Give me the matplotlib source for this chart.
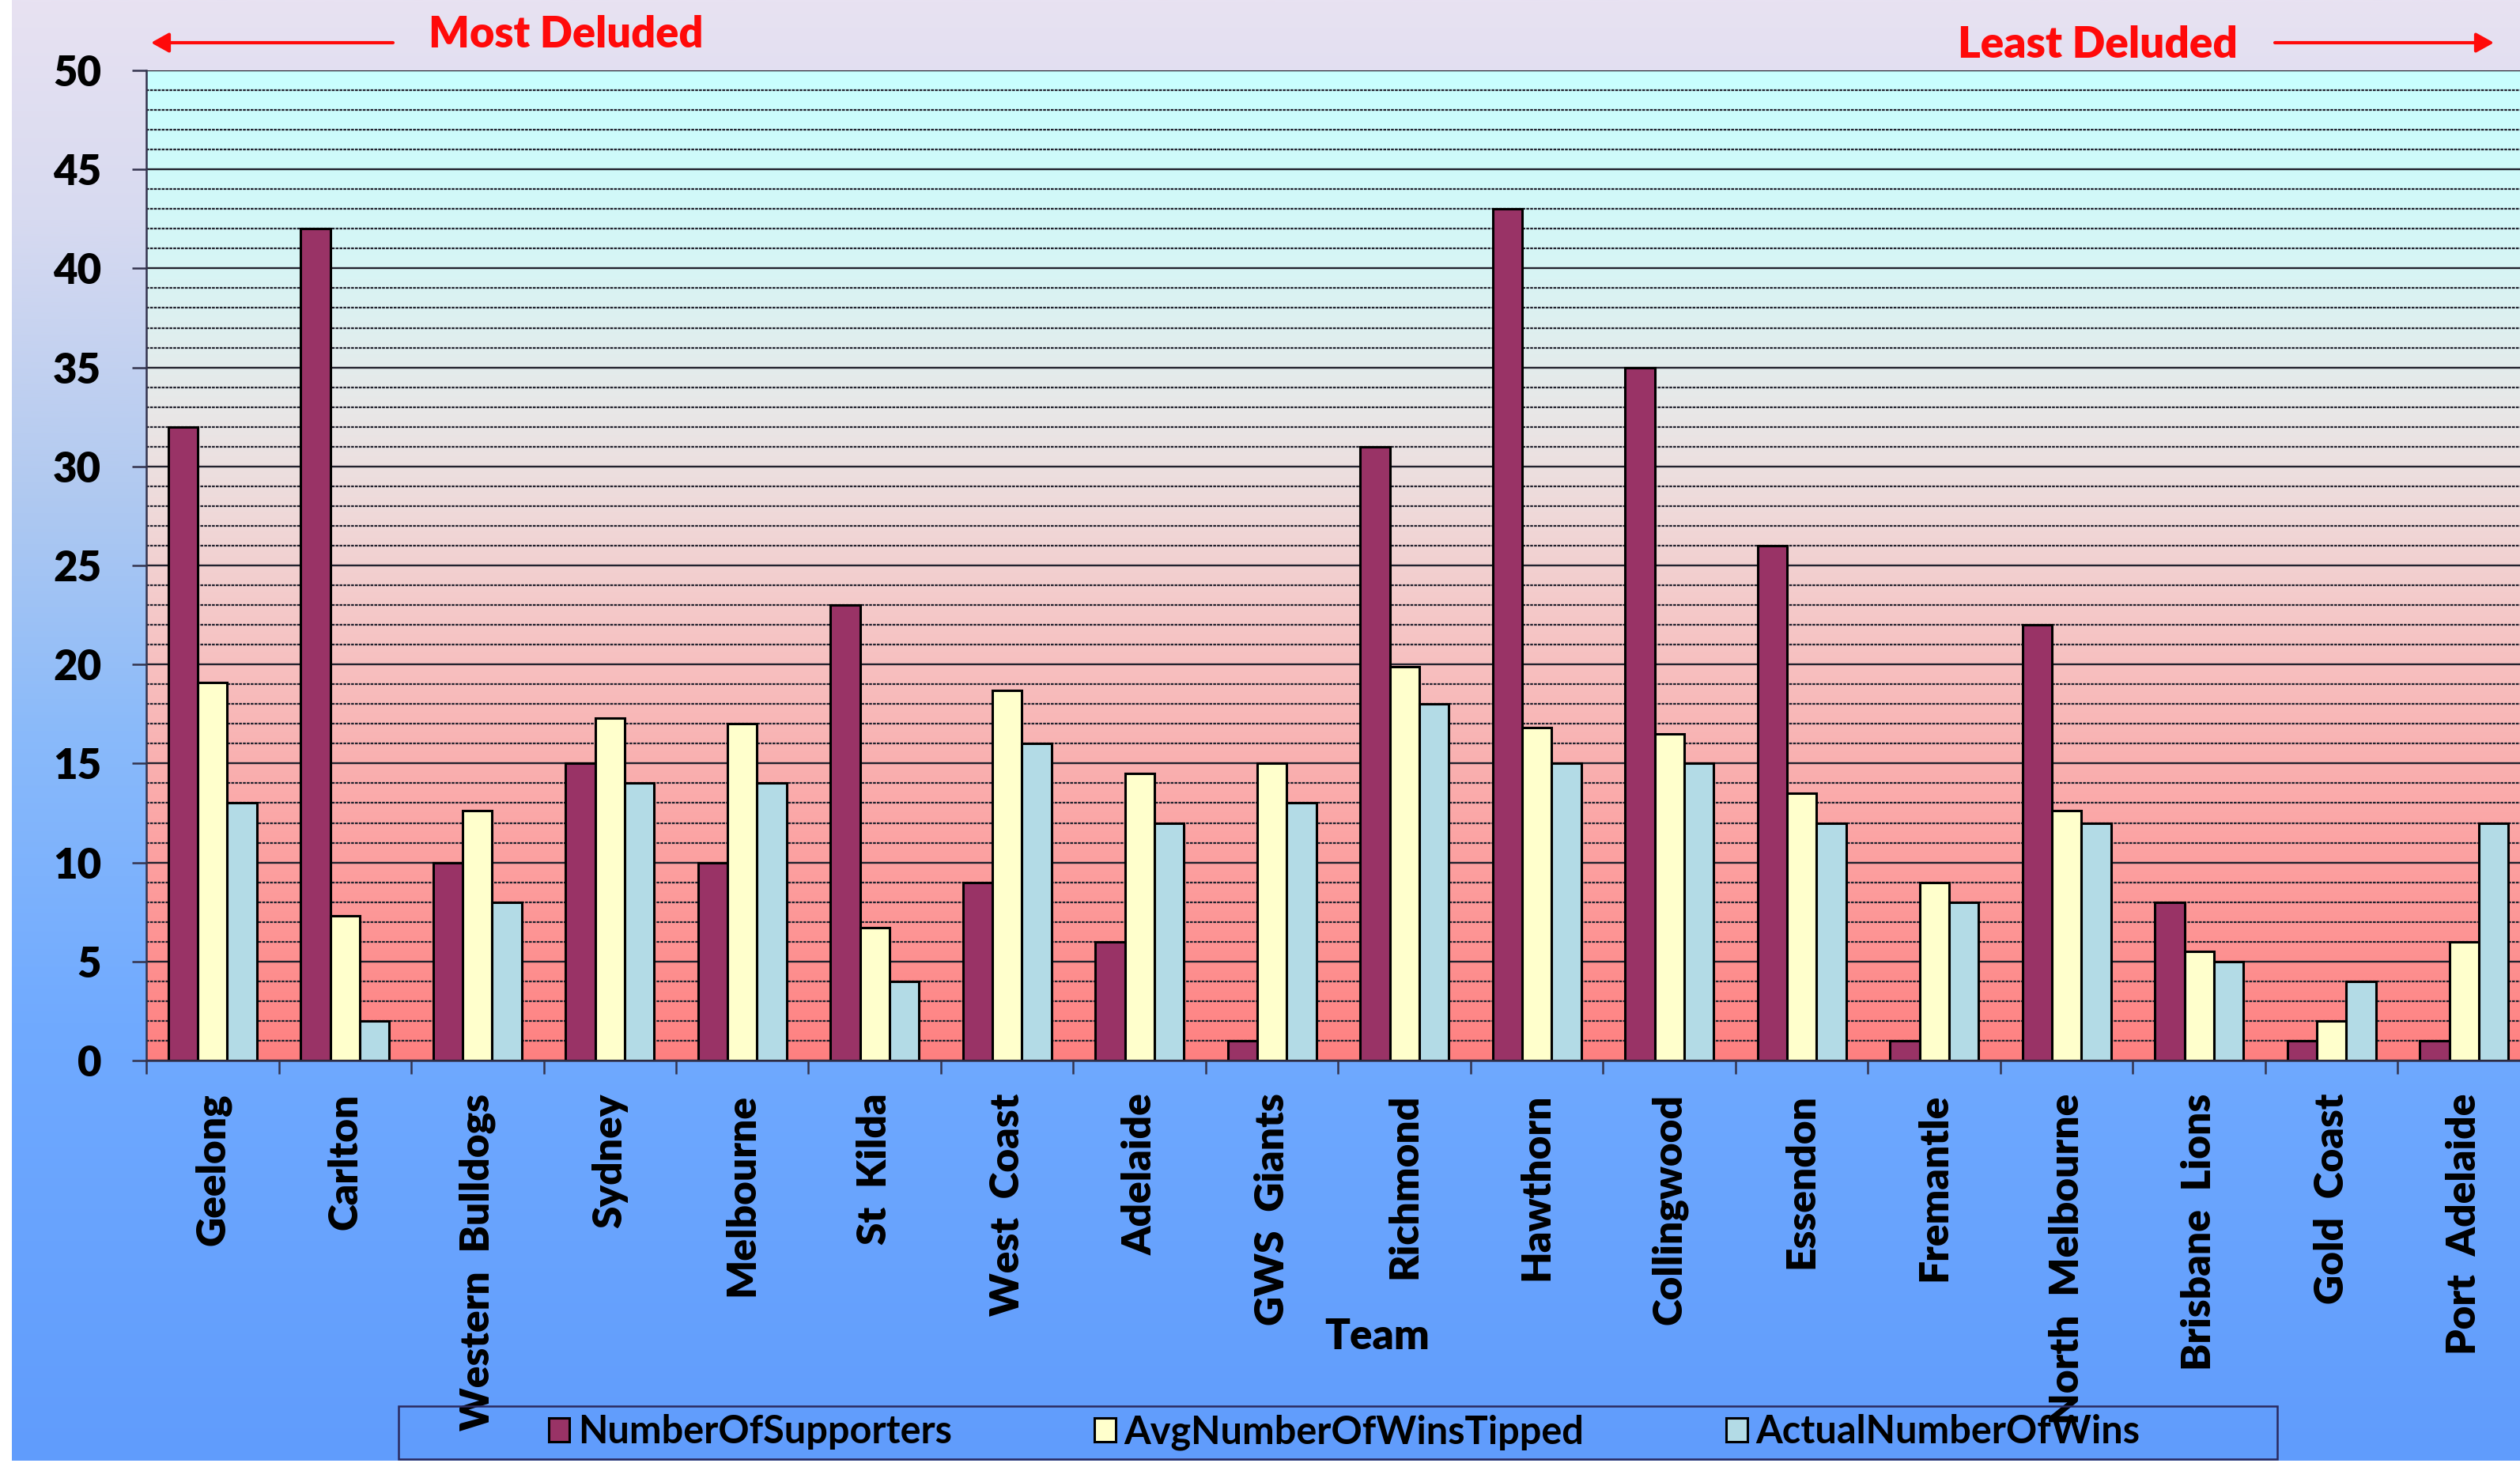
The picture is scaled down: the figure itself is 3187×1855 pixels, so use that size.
import numpy as np
import matplotlib
matplotlib.use("Agg")
import matplotlib.pyplot as plt
from matplotlib.patches import Rectangle, FancyArrowPatch
from matplotlib.ticker import MultipleLocator, FixedLocator

# ---------------- data ----------------
teams = ["Geelong", "Carlton", "Western  Bulldogs", "Sydney", "Melbourne", "St  Kilda",
         "West  Coast", "Adelaide", "GWS  Giants", "Richmond", "Hawthorn", "Collingwood",
         "Essendon", "Fremantle", "North  Melbourne", "Brisbane  Lions", "Gold  Coast",
         "Port  Adelaide"]
supporters = [32, 42, 10, 15, 10, 23, 9, 6, 1, 31, 43, 35, 26, 1, 22, 8, 1, 1]
avg_tipped = [19.1, 7.3, 12.6, 17.3, 17.0, 6.7, 18.7, 14.5, 15.0, 19.9, 16.8, 16.5,
              13.5, 9.0, 12.6, 5.5, 2.0, 6.0]
actual_wins = [13, 2, 8, 14, 14, 4, 16, 12, 13, 18, 15, 15, 12, 8, 12, 5, 4, 12]
series_names = ["NumberOfSupporters", "AvgNumberOfWinsTipped", "ActualNumberOfWins"]
series_colors = ["#993366", "#ffffcc", "#b3dbe6"]
y_ticks = list(range(0, 51, 5))

FONT = ["Lato", "DejaVu Sans"]
plt.rcParams["font.family"] = FONT
WEIGHT = "heavy"

W, H = 3187, 1855
fig = plt.figure(figsize=(W / 100, H / 100), dpi=100, facecolor="white")

# ---------- figure background gradient ----------
bg = fig.add_axes([15 / W, 8 / H, 1 - 15 / W, 1 - 8 / H], zorder=-10)
t = np.linspace(0, 1, 600)
stops_t = [0.0, 0.15, 0.33, 0.5, 0.7, 1.0]
stops_c = np.array([(232, 226, 242), (215, 218, 240), (178, 202, 240),
                    (138, 186, 250), (112, 170, 255), (96, 156, 252)]) / 255
grad = np.stack([np.interp(t, stops_t, stops_c[:, k]) for k in range(3)], axis=-1)
bg.imshow(grad[:, None, :], aspect="auto", extent=[0, 1, 0, 1], interpolation="bilinear")
bg.axis("off")

# ---------- main axes ----------
left, right_px, top, bottom = 185, 3200, 89, 1341
ax = fig.add_axes([left / W, (H - bottom) / H, (right_px - left) / W, (bottom - top) / H])
ax.set_facecolor("none")
n = len(teams)
x = np.arange(n)
ax.set_xlim(-0.5, n - 0.5)
ax.set_ylim(0, 50)

# plot-area gradient
v = np.linspace(0, 50, 500)
pv = [0, 10, 20, 27, 33, 40, 50]
pc = np.array([(255, 128, 128), (252, 160, 160), (247, 192, 192), (240, 215, 215),
               (232, 232, 232), (215, 245, 245), (200, 255, 255)]) / 255
pgrad = np.stack([np.interp(v, pv, pc[:, k]) for k in range(3)], axis=-1)
ax.imshow(pgrad[:, None, :], aspect="auto", extent=[-0.5, n - 0.5, 0, 50],
          origin="lower", interpolation="bilinear", zorder=0.1)

bw = 0.222
for i, (vals, name, col) in enumerate(zip([supporters, avg_tipped, actual_wins],
                                          series_names, series_colors)):
    ax.bar(x + (i - 1) * bw, vals, bw, color=col, edgecolor="black", linewidth=2.2,
           label=name, zorder=2)

# grid
ax.set_axisbelow(True)
ax.yaxis.set_major_locator(FixedLocator(y_ticks))
ax.yaxis.set_minor_locator(MultipleLocator(1))
ax.yaxis.grid(True, which="major", color="#22222e", linewidth=1.7, linestyle="-", zorder=0.5)
ax.yaxis.grid(True, which="minor", color="#22222e", linewidth=1.6,
              linestyle=(0, (1.6, 0.6)), zorder=0.5)
ax.xaxis.grid(False)

# spines
for s in ["top", "right"]:
    ax.spines[s].set_visible(False)
for s in ["left", "bottom"]:
    ax.spines[s].set_color("#33334d")
    ax.spines[s].set_linewidth(1.8)
    ax.spines[s].set_zorder(3)

# y ticks
ax.tick_params(axis="y", which="major", length=13, width=1.8, color="#33334d",
               direction="out", pad=28, labelsize=38)
ax.tick_params(axis="y", which="minor", length=0)
for lab in ax.get_yticklabels():
    lab.set_fontweight(WEIGHT)

# x ticks
ax.set_xticks(x)
ax.set_xticklabels(teams, rotation=90, fontsize=37, fontweight=WEIGHT, va="top", ha="center")
ax.set_xticks(np.arange(-0.5, n, 1.0), minor=True)
ax.tick_params(axis="x", which="major", length=0, pad=30)
ax.tick_params(axis="x", which="minor", length=12.5, width=1.8, color="#33334d",
               direction="out")

ax.set_xlabel("Team", fontsize=38, fontweight=WEIGHT, va="center")
ax.xaxis.set_label_coords((1742 - left) / (right_px - left), -(1691 - bottom) / (bottom - top))

# ---------- legend ----------
fig.add_artist(Rectangle((504 / W, (H - 1845) / H), (2880 - 504) / W, 67 / H,
                         transform=fig.transFigure, facecolor="none",
                         edgecolor="#2a2a60", linewidth=1.8, zorder=5))
leg_fs = 35
leg = fig.legend(loc="center", bbox_to_anchor=(1700 / W, (H - 1811) / H), ncol=3,
                 frameon=False, prop={"weight": "bold", "size": leg_fs},
                 handlelength=0.55, handleheight=0.55, handletextpad=0.22,
                 columnspacing=3.7, borderpad=0)

# ---------- annotations ----------
red = "#ff0a0a"
fig.text(716 / W, 1 - 44 / H, "Most Deluded", color=red, fontsize=39, fontweight=WEIGHT,
         ha="center", va="center")
fig.text(2653 / W, 1 - 57 / H, "Least Deluded", color=red, fontsize=39.5, fontweight=WEIGHT,
         ha="center", va="center")
arrow_kw = dict(arrowstyle="-|>,head_length=0.45,head_width=0.25", color=red, lw=3,
                mutation_scale=30, shrinkA=0, shrinkB=0)
fig.add_artist(FancyArrowPatch((497 / W, 1 - 54 / H), (191 / W, 1 - 54 / H),
                               transform=fig.transFigure, **arrow_kw))
fig.add_artist(FancyArrowPatch((2877 / W, 1 - 54 / H), (3154 / W, 1 - 54 / H),
                               transform=fig.transFigure, **arrow_kw))

fig.savefig("out.png", dpi=100, facecolor="white")
